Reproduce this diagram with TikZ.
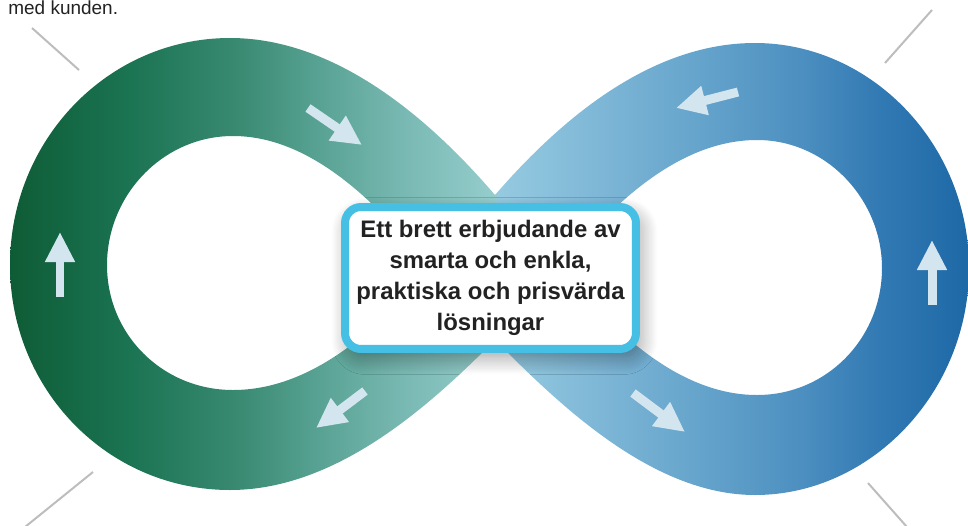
\documentclass[tikz,border=0pt]{standalone}
\usepackage{fontspec}
\setmainfont{Liberation Sans}
\usetikzlibrary{arrows.meta, shadows.blur}

\definecolor{loop_a}{HTML}{0E5C36}
\definecolor{loop_b}{HTML}{1B7453}
\definecolor{loop_c}{HTML}{37886F}
\definecolor{loop_d}{HTML}{55A090}
\definecolor{loop_e}{HTML}{78B8B2}
\definecolor{loop_f}{HTML}{95CDCC}
\definecolor{loop_g}{HTML}{95CAE0}
\definecolor{loop_h}{HTML}{7DB6D6}
\definecolor{loop_i}{HTML}{64A3CB}
\definecolor{loop_j}{HTML}{4C8FC0}
\definecolor{loop_k}{HTML}{3179B3}
\definecolor{loop_l}{HTML}{1D68A6}
\definecolor{arrow_pale}{HTML}{D3E6F0}
\definecolor{box_cyan}{HTML}{45BFE3}
\definecolor{text_dark}{HTML}{222222}
\definecolor{lead_gray}{HTML}{BDBDBD}

\pgfdeclarehorizontalshading{loop_shade}{100bp}{
    color(0bp)=(loop_a); color(25bp)=(loop_a); color(31.3bp)=(loop_b);
    color(36.5bp)=(loop_c); color(40.7bp)=(loop_d); color(45.4bp)=(loop_e);
    color(50.3bp)=(loop_f); color(50.4bp)=(loop_g); color(55.9bp)=(loop_h);
    color(61.1bp)=(loop_i); color(66.3bp)=(loop_j); color(70.5bp)=(loop_k);
    color(75bp)=(loop_l); color(100bp)=(loop_l)}

\tikzset{
    loop_band/.style={shading=loop_shade, even odd rule},
    flow_arrow/.style={
        draw=arrow_pale, line width=0.18cm,
        -{Triangle[length=0.6cm, width=0.56cm]}
    },
    info_box/.style={
        rectangle, rounded corners=0.32cm, draw=box_cyan, line width=0.16cm,
        fill=white, minimum width=5.82cm, minimum height=2.84cm,
        align=center, text=text_dark,
        font=\bfseries\fontsize{13.6}{17.6}\selectfont,
        blur shadow={shadow xshift=0.08cm, shadow yshift=-0.16cm,
            shadow blur radius=0.35cm, shadow blur steps=16, shadow opacity=40}
    },
    corner_note/.style={font=\fontsize{10.8}{13}\selectfont, text=text_dark, inner sep=0pt},
    lead_line/.style={draw=lead_gray, line width=0.04cm}
}

\begin{document}
\begin{tikzpicture}[x=0.02cm, y=-0.02cm]
    \useasboundingbox (0,0) rectangle (968,525);
    \clip (0,0) rectangle (968,525);

    % the loop, two holes cut out
    \shade[loop_band]
        (495,195) .. controls (560,120) and (650,43) .. (755,43)
        .. controls (871,43) and (969,144) .. (969,268)
        .. controls (969,392) and (871,495) .. (755,495)
        .. controls (650,495) and (555,400) .. (495,340)
        .. controls (435,400) and (340,490) .. (230,490)
        .. controls (108,490) and (10,390) .. (10,265)
        .. controls (10,140) and (108,38) .. (230,38)
        .. controls (340,38) and (435,125) .. (495,195) -- cycle
        (430,267) .. controls (390,220) and (320,136) .. (233,136)
        .. controls (163,136) and (107,195) .. (107,265)
        .. controls (107,335) and (163,390) .. (233,390)
        .. controls (320,390) and (390,315) .. (430,267) -- cycle
        (560,267) .. controls (600,220) and (670,140) .. (757,140)
        .. controls (827,140) and (882,200) .. (882,268)
        .. controls (882,338) and (827,395) .. (757,395)
        .. controls (670,395) and (600,315) .. (560,267) -- cycle;

    % direction marks
    \foreach \ax/\ay/\bx/\by in {60/297/60/232, 308/108/362/145, 365/391/316/428,
                                 738/92/676/108, 633/393/685/432, 932/305/932/240}
        \draw[flow_arrow] (\ax,\ay) -- (\bx,\by);

    \node[info_box] (offer) at (490.5,278)
        {Ett brett erbjudande av\\smarta och enkla,\\praktiska och prisvärda\\lösningar};

    \node[corner_note, anchor=base west] (note) at (8,14) {med kunden.};

    % leader lines
    \coordinate (tl_a) at (32,28);   \coordinate (tl_b) at (79,70);
    \coordinate (tr_a) at (932,10);  \coordinate (tr_b) at (885,63);
    \coordinate (bl_a) at (93,472);  \coordinate (bl_b) at (25,527);
    \coordinate (br_a) at (868,483); \coordinate (br_b) at (907,527);
    \draw[lead_line] (tl_a) -- (tl_b);
    \draw[lead_line] (tr_a) -- (tr_b);
    \draw[lead_line] (bl_a) -- (bl_b);
    \draw[lead_line] (br_a) -- (br_b);
\end{tikzpicture}
\end{document}
